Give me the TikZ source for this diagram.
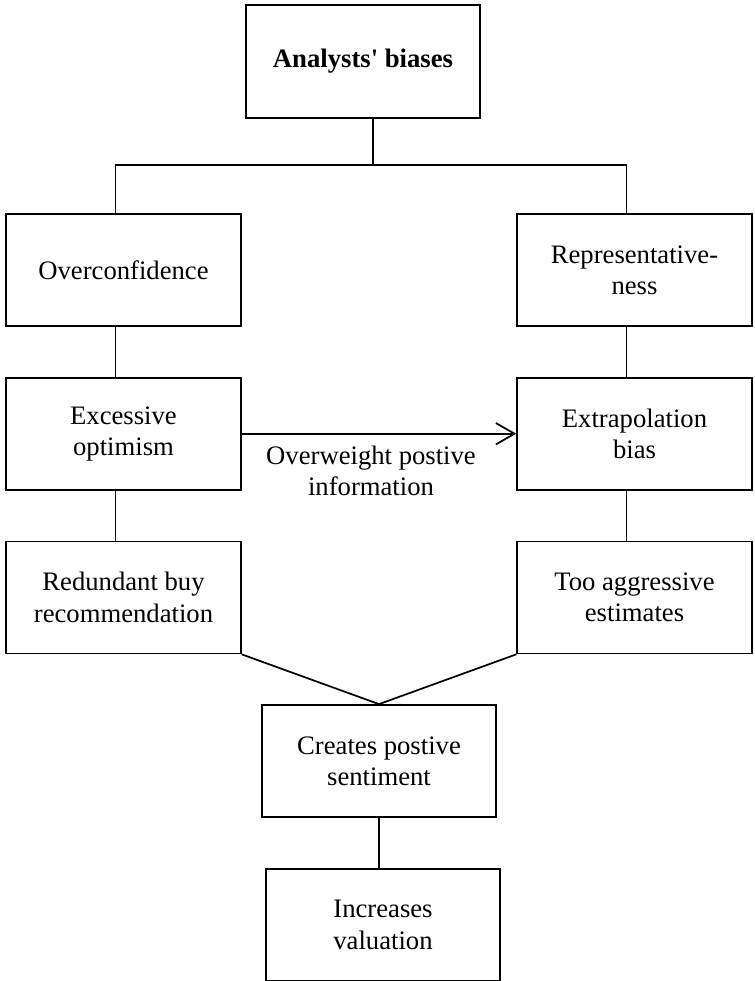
\documentclass[tikz,border=0pt]{standalone}
\usepackage{fontspec}
\setmainfont{Liberation Serif}
\usetikzlibrary{arrows.meta,positioning}

\begin{document}
\begin{tikzpicture}[
    x=0.75pt, y=-0.75pt,
    node distance=37.5pt,
    box/.style={rectangle, draw, line width=1.3pt, minimum width=176pt, minimum height=84pt, align=center, font=\fontsize{20}{23.5}\selectfont},
    lbl/.style={align=center, font=\fontsize{20}{23.5}\selectfont},
    link/.style={line width=1.3pt},
    arrow/.style={-{Straight Barb[length=14pt,width=16pt,line width=1.3pt]}, line width=1.3pt},
]
    \useasboundingbox (0,0) rectangle (754,981);

    \node[box, minimum height=85pt] (biases) at (363,61.5) {\textbf{Analysts\textquotesingle{} biases}};
    \node[box] (overconf) at (123.5,270) {Overconfidence};
    \node[box] (repr) at (634.5,270) {Representative-\\ness};
    \node[box, below=of overconf] (optim) {Excessive\\optimism};
    \node[box, below=of repr] (extrap) {Extrapolation\\bias};
    \node[box, below=of optim] (buyrec) {Redundant buy\\recommendation};
    \node[box, below=of extrap] (estim) {Too aggressive\\estimates};
    \node[box] (sentim) at (379,761) {Creates postive\\sentiment};
    \node[box, below=of sentim, xshift=3pt] (valu) {Increases\\valuation};

    % tree under the top box
    \draw[link] ([xshift=7.5pt]biases.south) -- ++(0,46) coordinate (split);
    \draw[link] ([xshift=-6pt]overconf.north) |- (split) -| ([xshift=-6pt]repr.north);

    \draw[link] ([xshift=-6pt]overconf.south) -- ([xshift=-6pt]optim.north);
    \draw[link] ([xshift=-6pt]optim.south) -- ([xshift=-6pt]buyrec.north);
    \draw[link] ([xshift=-6pt]repr.south) -- ([xshift=-6pt]extrap.north);
    \draw[link] ([xshift=-6pt]extrap.south) -- ([xshift=-6pt]estim.north);

    \draw[arrow] (optim.east) -- node[lbl, below, xshift=-6pt, yshift=-5pt] (overweight) {Overweight postive\\information} (extrap.west);

    \draw[link] (buyrec.south east) -- (sentim.north) -- (estim.south west);
    \draw[link] (sentim) -- (sentim |- valu.north);
\end{tikzpicture}
\end{document}
